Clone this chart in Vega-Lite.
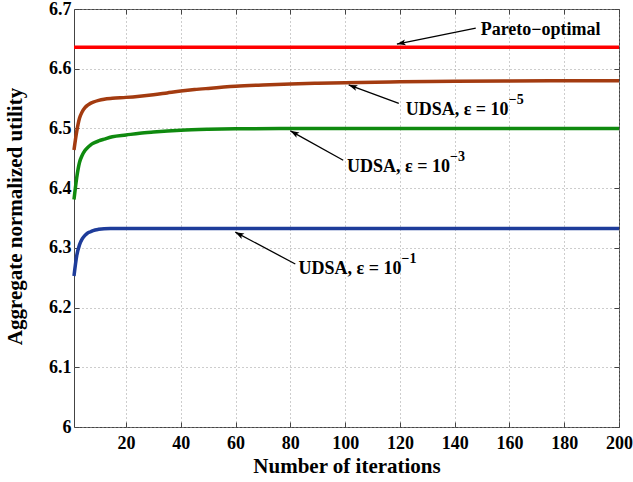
{
  "$schema": "https://vega.github.io/schema/vega-lite/v6.json",
  "width": 545,
  "height": 418,
  "autosize": {"type": "none"},
  "padding": {"left": 74, "top": 9, "right": 14, "bottom": 55},
  "background": "white",
  "config": {
    "view": {"stroke": "#444444", "strokeWidth": 1},
    "font": "'Liberation Serif', 'Times New Roman', serif",
    "axis": {
      "domain": false,
      "labelFlush": false,
      "labelFont": "'Liberation Serif', 'Times New Roman', serif",
      "labelFontSize": 18,
      "labelFontWeight": "bold",
      "labelColor": "#000000",
      "titleFont": "'Liberation Serif', 'Times New Roman', serif",
      "titleFontSize": 21,
      "titleFontWeight": "bold",
      "titleColor": "#000000",
      "tickColor": "#444444",
      "tickSize": -5,
      "gridColor": "#9a9a9a",
      "gridDash": [1, 3],
      "gridWidth": 1
    }
  },
  "datasets": {
    "curves": [
      {"series": "pareto", "iter": 1, "value": 6.636},
      {"series": "pareto", "iter": 200, "value": 6.636},
      {"series": "eps5", "iter": 1, "value": 6.464},
      {"series": "eps5", "iter": 2, "value": 6.495},
      {"series": "eps5", "iter": 3, "value": 6.517},
      {"series": "eps5", "iter": 4, "value": 6.528},
      {"series": "eps5", "iter": 5, "value": 6.535},
      {"series": "eps5", "iter": 6, "value": 6.539},
      {"series": "eps5", "iter": 7, "value": 6.542},
      {"series": "eps5", "iter": 8, "value": 6.544},
      {"series": "eps5", "iter": 10, "value": 6.547},
      {"series": "eps5", "iter": 12, "value": 6.549},
      {"series": "eps5", "iter": 15, "value": 6.5505},
      {"series": "eps5", "iter": 20, "value": 6.552},
      {"series": "eps5", "iter": 25, "value": 6.554},
      {"series": "eps5", "iter": 30, "value": 6.5565},
      {"series": "eps5", "iter": 35, "value": 6.5595},
      {"series": "eps5", "iter": 40, "value": 6.5625},
      {"series": "eps5", "iter": 45, "value": 6.565},
      {"series": "eps5", "iter": 50, "value": 6.567},
      {"series": "eps5", "iter": 60, "value": 6.5705},
      {"series": "eps5", "iter": 70, "value": 6.5728},
      {"series": "eps5", "iter": 80, "value": 6.5745},
      {"series": "eps5", "iter": 90, "value": 6.5757},
      {"series": "eps5", "iter": 100, "value": 6.5767},
      {"series": "eps5", "iter": 120, "value": 6.578},
      {"series": "eps5", "iter": 140, "value": 6.579},
      {"series": "eps5", "iter": 160, "value": 6.5795},
      {"series": "eps5", "iter": 180, "value": 6.5798},
      {"series": "eps5", "iter": 200, "value": 6.58},
      {"series": "eps3", "iter": 1, "value": 6.381},
      {"series": "eps3", "iter": 2, "value": 6.418},
      {"series": "eps3", "iter": 3, "value": 6.443},
      {"series": "eps3", "iter": 4, "value": 6.455},
      {"series": "eps3", "iter": 5, "value": 6.463},
      {"series": "eps3", "iter": 6, "value": 6.468},
      {"series": "eps3", "iter": 7, "value": 6.472},
      {"series": "eps3", "iter": 8, "value": 6.475},
      {"series": "eps3", "iter": 10, "value": 6.479},
      {"series": "eps3", "iter": 12, "value": 6.482},
      {"series": "eps3", "iter": 15, "value": 6.486},
      {"series": "eps3", "iter": 20, "value": 6.489},
      {"series": "eps3", "iter": 25, "value": 6.492},
      {"series": "eps3", "iter": 30, "value": 6.494},
      {"series": "eps3", "iter": 40, "value": 6.497},
      {"series": "eps3", "iter": 50, "value": 6.4985},
      {"series": "eps3", "iter": 60, "value": 6.4993},
      {"series": "eps3", "iter": 80, "value": 6.4998},
      {"series": "eps3", "iter": 100, "value": 6.5},
      {"series": "eps3", "iter": 200, "value": 6.5},
      {"series": "eps1", "iter": 1, "value": 6.253},
      {"series": "eps1", "iter": 2, "value": 6.287},
      {"series": "eps1", "iter": 3, "value": 6.305},
      {"series": "eps1", "iter": 4, "value": 6.315},
      {"series": "eps1", "iter": 5, "value": 6.321},
      {"series": "eps1", "iter": 6, "value": 6.325},
      {"series": "eps1", "iter": 7, "value": 6.327},
      {"series": "eps1", "iter": 8, "value": 6.329},
      {"series": "eps1", "iter": 10, "value": 6.331},
      {"series": "eps1", "iter": 12, "value": 6.332},
      {"series": "eps1", "iter": 15, "value": 6.3323},
      {"series": "eps1", "iter": 20, "value": 6.3325},
      {"series": "eps1", "iter": 200, "value": 6.3325}
    ],
    "arrows": [
      {"iter": 147.7, "value": 6.668, "iter2": 118.9, "value2": 6.6412, "angle": 258.5},
      {"iter": 119.6, "value": 6.542, "iter2": 101.3, "value2": 6.5728, "angle": 290.1},
      {"iter": 99.3, "value": 6.4467, "iter2": 80.0, "value2": 6.496, "angle": 299.1},
      {"iter": 81.8, "value": 6.273, "iter2": 59.9, "value2": 6.3263, "angle": 297.8}
    ],
    "labels": [
      {"label": "Pareto−optimal", "iter": 149.5, "value": 6.6568},
      {"label": "UDSA, ε = 10", "iter": 122.1, "value": 6.5223},
      {"label": "UDSA, ε = 10", "iter": 100.7, "value": 6.4271},
      {"label": "UDSA, ε = 10", "iter": 83.0, "value": 6.2563}
    ],
    "sups": [
      {"sup": "−5", "iter": 122.1, "value": 6.5223},
      {"sup": "−3", "iter": 100.7, "value": 6.4271},
      {"sup": "−1", "iter": 83.0, "value": 6.2563}
    ]
  },
  "layer": [
    {
      "data": {"name": "curves"},
      "mark": {"type": "line", "strokeWidth": 3.5, "interpolate": "monotone"},
      "encoding": {
        "x": {
          "field": "iter", "type": "quantitative",
          "scale": {"domain": [1, 200], "nice": false, "zero": false},
          "axis": {
            "orient": "bottom",
            "values": [20, 40, 60, 80, 100, 120, 140, 160, 180, 200],
            "grid": true,
            "labelPadding": 12,
            "labelBaseline": "top",
            "title": "Number of iterations",
            "titleY": 45,
            "titleBaseline": "alphabetic"
          }
        },
        "y": {
          "field": "value", "type": "quantitative",
          "scale": {"domain": [6, 6.7], "nice": false, "zero": false},
          "axis": {
            "orient": "left",
            "values": [6, 6.1, 6.2, 6.3, 6.4, 6.5, 6.6, 6.7],
            "labelExpr": "datum.value == 6 ? '6' : format(datum.value, '.1f')",
            "grid": true,
            "labelPadding": 8,
            "title": "Aggregate normalized utility",
            "titleX": -53,
            "titleY": 207,
            "titleAngle": -90,
            "titleAlign": "center",
            "titleBaseline": "alphabetic"
          }
        },
        "color": {
          "field": "series", "type": "nominal",
          "scale": {"domain": ["pareto", "eps5", "eps3", "eps1"], "range": ["#ff0000", "#a33b10", "#0f8a0f", "#1e3c9a"]},
          "legend": null
        }
      }
    },
    {
      "data": {"name": "arrows"},
      "mark": {"type": "rule", "color": "#000000", "strokeWidth": 1.3},
      "encoding": {
        "x": {
          "field": "iter", "type": "quantitative",
          "axis": {
            "orient": "top",
            "values": [20, 40, 60, 80, 100, 120, 140, 160, 180, 200],
            "labels": false, "title": null, "grid": false
          }
        },
        "y": {
          "field": "value", "type": "quantitative",
          "axis": {
            "orient": "right",
            "values": [6, 6.1, 6.2, 6.3, 6.4, 6.5, 6.6, 6.7],
            "labels": false, "title": null, "grid": false
          }
        },
        "x2": {"field": "iter2"},
        "y2": {"field": "value2"}
      }
    },
    {
      "data": {"name": "arrows"},
      "mark": {"type": "point", "shape": "M0,0L-0.55,1.6L0,1.25L0.55,1.6Z", "filled": true, "color": "#000000", "opacity": 1, "size": 120},
      "encoding": {
        "x": {"field": "iter2", "type": "quantitative", "axis": null},
        "y": {"field": "value2", "type": "quantitative", "axis": null},
        "angle": {"field": "angle", "type": "quantitative", "scale": null}
      }
    },
    {
      "data": {"name": "labels"},
      "mark": {"type": "text", "align": "left", "baseline": "alphabetic", "font": "'Liberation Serif', 'Times New Roman', serif", "fontSize": 18, "fontWeight": "bold", "color": "#000000"},
      "encoding": {
        "x": {"field": "iter", "type": "quantitative", "axis": null},
        "y": {"field": "value", "type": "quantitative", "axis": null},
        "text": {"field": "label"}
      }
    },
    {
      "data": {"name": "sups"},
      "mark": {"type": "text", "align": "left", "baseline": "alphabetic", "font": "'Liberation Serif', 'Times New Roman', serif", "fontSize": 14, "fontWeight": "bold", "color": "#000000", "dx": 103, "dy": -11},
      "encoding": {
        "x": {"field": "iter", "type": "quantitative", "axis": null},
        "y": {"field": "value", "type": "quantitative", "axis": null},
        "text": {"field": "sup"}
      }
    }
  ],
  "resolve": {"axis": {"x": "independent", "y": "independent"}}
}
